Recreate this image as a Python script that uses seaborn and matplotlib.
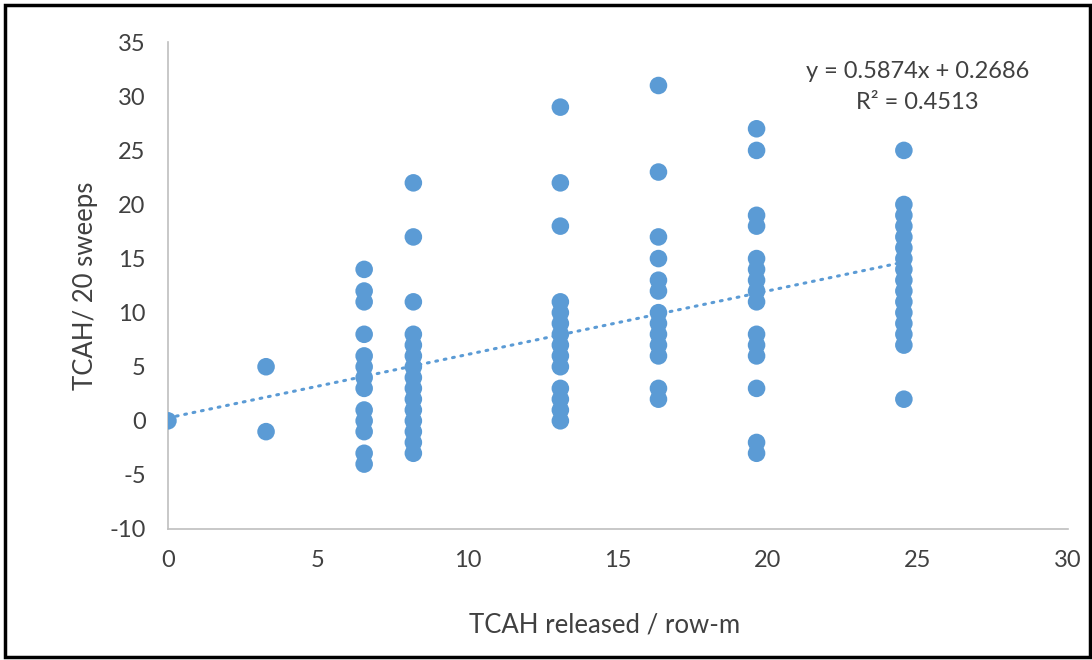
import numpy as np
import pandas as pd
import matplotlib
matplotlib.use("Agg")
import matplotlib.pyplot as plt
import seaborn as sns

# %% Data
released = [0, 3.27, 6.54, 8.18, 13.08, 16.35, 19.62, 24.53]
counts = [
    [0],
    [5, -1],
    [14, 12, 11, 8, 6, 5, 4, 3, 1, 0, -1, -3, -4],
    [22, 17, 11, 8, 7, 6, 5, 4, 3, 2, 1, 0, -1, -2, -3],
    [29, 22, 18, 11, 10, 9, 8, 7, 6, 5, 3, 2, 1, 0],
    [31, 23, 17, 15, 13, 12, 10, 9, 8, 7, 6, 3, 2],
    [27, 25, 19, 18, 15, 14, 13, 12, 11, 8, 7, 6, 3, -2, -3],
    [25, 20, 19, 18, 17, 16, 15, 14, 13, 12, 11, 10, 9, 8, 7, 2],
]
slope = 0.5874
intercept = 0.2686
r2 = 0.4513

df = pd.DataFrame({
    "released": [x for x, ys in zip(released, counts) for _ in ys],
    "tcah": [y for ys in counts for y in ys],
})

# %% Plot
sns.set_theme(style="white")
plt.rcParams["font.family"] = ["Lato", "DejaVu Sans"]
plt.rcParams["axes.unicode_minus"] = False
blue = "#5B9BD5"
txt = "#404040"

fig = plt.figure(figsize=(10.92, 6.6), dpi=100)
ax = fig.add_axes([0.1538, 0.1985, 0.8242, 0.7375])

sns.scatterplot(data=df, x="released", y="tcah", ax=ax, color=blue,
                s=160, edgecolor="none", zorder=3)

# trendline from the fitted equation
xl = np.array([min(released), max(released)])
ax.plot(xl, slope * xl + intercept, color=blue, lw=2.2,
        linestyle=(0, (0.6, 2.2)), dash_capstyle="round", zorder=2)

ax.set_xlim(0, 30)
ax.set_ylim(-10, 35)
ax.set_xticks(range(0, 31, 5))
ax.set_yticks(range(-10, 36, 5))
ax.tick_params(axis="both", labelsize=17, colors=txt, length=0)
ax.tick_params(axis="x", pad=15)
ax.tick_params(axis="y", pad=16)
for side in ["top", "right"]:
    ax.spines[side].set_visible(False)
for side in ["left", "bottom"]:
    ax.spines[side].set_color("#BFBFBF")
    ax.spines[side].set_linewidth(1.2)

ax.set_xlabel("TCAH released / row-m", fontsize=18.5, color=txt)
ax.set_ylabel("TCAH/ 20 sweeps", fontsize=18.5, color=txt)
ax.xaxis.label.set(va="center")
ax.yaxis.label.set(va="center", rotation_mode="anchor")
ax.xaxis.set_label_coords(0.485, -0.197)
ax.yaxis.set_label_coords(-0.092, 0.5)

fig.text(0.84, 0.891, f"y = {slope}x + {intercept}", ha="center", va="center",
         fontsize=17, color=txt)
fig.text(0.84, 0.844, f"R² = {r2}", ha="center", va="center",
         fontsize=17, color=txt)

fig.patches.append(plt.Rectangle((0.005, 0.005), 0.993, 0.987, transform=fig.transFigure,
                                 fill=False, edgecolor="black", linewidth=2.5))

fig.savefig("out.png", dpi=100)
